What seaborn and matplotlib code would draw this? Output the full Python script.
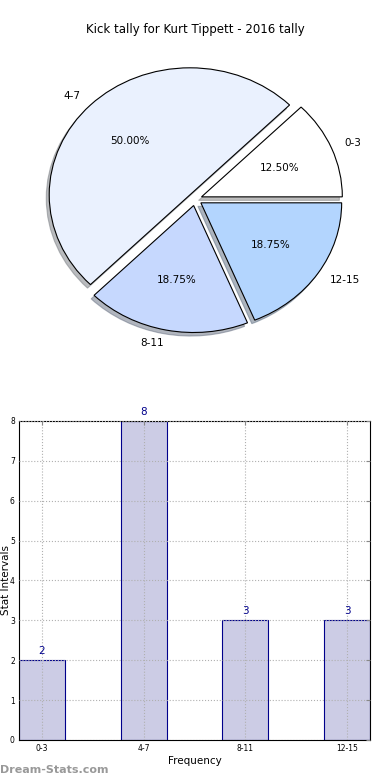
import matplotlib
matplotlib.use('Agg')
import matplotlib.pyplot as plt
import seaborn as sns

# data
categories = ['0-3', '4-7', '8-11', '12-15']
counts = [2, 8, 3, 3]
pie_colors = ['#ffffff', '#eaf1fe', '#c6d8fe', '#b3d5fe']
explode = [0.05, 0.05, 0.05, 0.05]

sns.set_style('white')
plt.rcParams['font.family'] = ['DejaVu Sans']
plt.rcParams['text.color'] = 'black'
plt.rcParams['axes.labelcolor'] = 'black'
plt.rcParams['xtick.labelcolor'] = 'black'
plt.rcParams['ytick.labelcolor'] = 'black'

fig = plt.figure(figsize=(3.9, 7.8), dpi=100)

# pie chart (top)
ax1 = fig.add_axes([0.0487, 0.541, 0.9026, 0.407])
ax1.pie(counts, labels=categories, colors=pie_colors, explode=explode,
        autopct='%1.2f%%', startangle=0,
        shadow={'ox': -0.015, 'oy': -0.02, 'shade': 0.5},
        wedgeprops={'edgecolor': 'black', 'linewidth': 0.8},
        textprops={'fontsize': 7.5, 'color': 'black'})
ax1.set_aspect('auto')
ax1.set_xlim(-1.25, 1.25)
ax1.set_ylim(-1.25, 1.25)
ax1.axis('off')
fig.text(0.5, 0.962, 'Kick tally for Kurt Tippett - 2016 tally',
         ha='center', va='center', fontsize=8.5, color='black')

# bar chart (bottom)
ax2 = fig.add_axes([0.0487, 0.0513, 0.9, 0.409])
sns.barplot(x=categories, y=counts, order=categories, width=0.45,
            color='#ccccE5', edgecolor='#00008b', linewidth=0.8,
            saturation=1, ax=ax2)
ax2.set_xlim(-0.225, 3.225)
ax2.set_ylim(0, 8)
ax2.set_yticks(range(0, 9))
ax2.grid(True, linestyle=':', color='#b0b0b0', linewidth=0.8)
ax2.set_axisbelow(False)
for s in ax2.spines.values():
    s.set_visible(True)
    s.set_color('black')
    s.set_linewidth(0.8)
ax2.tick_params(direction='in', labelsize=5.5, length=3, top=True, right=True,
                color='#888888', pad=3)
for i, v in enumerate(counts):
    ax2.text(i, v + 0.1, str(v), ha='center', va='bottom', color='#00008b', fontsize=7.5)
ax2.set_xlabel('Frequency', fontsize=7.5, labelpad=2)
ax2.set_ylabel('Stat Intervals', fontsize=7.5)
ax2.yaxis.set_label_coords(-0.024, 0.5)

fig.text(0.0, 0.013, 'Dream-Stats.com', color='#999999', fontsize=8,
         fontweight='bold', ha='left', va='center')

fig.savefig('out.png', dpi=100)
